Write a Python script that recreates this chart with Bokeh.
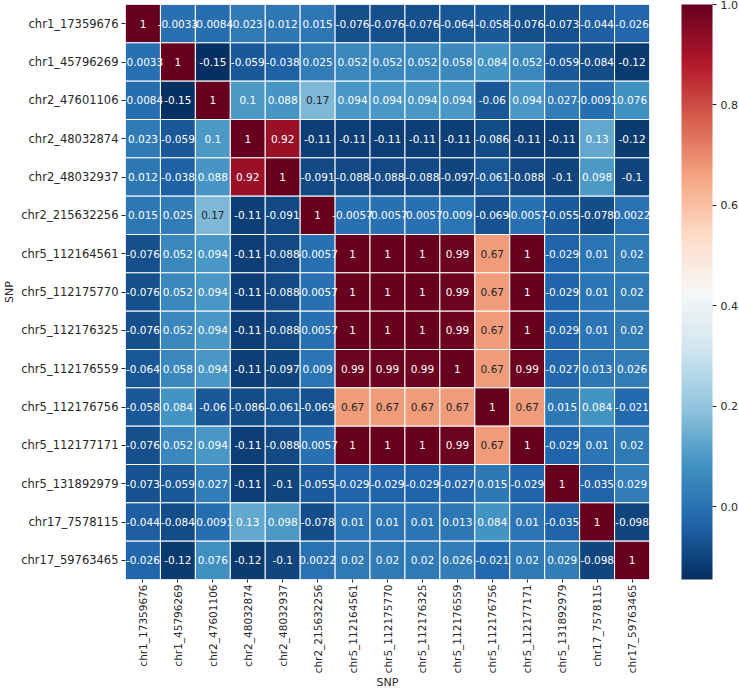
import math
import numpy as np
from bokeh.plotting import figure
from bokeh.models import (ColumnDataSource, LinearColorMapper, ColorBar, FixedTicker,
                          PrintfTickFormatter, FactorRange)
from bokeh.transform import transform
from bokeh.embed import file_html
from bokeh.resources import INLINE
from bokeh.core.properties import value

snps = ["chr1_17359676", "chr1_45796269", "chr2_47601106", "chr2_48032874",
        "chr2_48032937", "chr2_215632256", "chr5_112164561", "chr5_112175770",
        "chr5_112176325", "chr5_112176559", "chr5_112176756", "chr5_112177171",
        "chr5_131892979", "chr17_7578115", "chr17_59763465"]

row_chr1_17359676 = [1, -0.0033, -0.0084, 0.023, 0.012, 0.015, -0.076, -0.076, -0.076, -0.064, -0.058, -0.076, -0.073, -0.044, -0.026]
row_chr1_45796269 = [-0.0033, 1, -0.15, -0.059, -0.038, 0.025, 0.052, 0.052, 0.052, 0.058, 0.084, 0.052, -0.059, -0.084, -0.12]
row_chr2_47601106 = [-0.0084, -0.15, 1, 0.1, 0.088, 0.17, 0.094, 0.094, 0.094, 0.094, -0.06, 0.094, 0.027, -0.0091, 0.076]
row_chr2_48032874 = [0.023, -0.059, 0.1, 1, 0.92, -0.11, -0.11, -0.11, -0.11, -0.11, -0.086, -0.11, -0.11, 0.13, -0.12]
row_chr2_48032937 = [0.012, -0.038, 0.088, 0.92, 1, -0.091, -0.088, -0.088, -0.088, -0.097, -0.061, -0.088, -0.1, 0.098, -0.1]
row_chr2_215632256 = [0.015, 0.025, 0.17, -0.11, -0.091, 1, -0.0057, -0.0057, -0.0057, 0.009, -0.069, -0.0057, -0.055, -0.078, 0.0022]
row_chr5_112164561 = [-0.076, 0.052, 0.094, -0.11, -0.088, -0.0057, 1, 1, 1, 0.99, 0.67, 1, -0.029, 0.01, 0.02]
row_chr5_112175770 = [-0.076, 0.052, 0.094, -0.11, -0.088, -0.0057, 1, 1, 1, 0.99, 0.67, 1, -0.029, 0.01, 0.02]
row_chr5_112176325 = [-0.076, 0.052, 0.094, -0.11, -0.088, -0.0057, 1, 1, 1, 0.99, 0.67, 1, -0.029, 0.01, 0.02]
row_chr5_112176559 = [-0.064, 0.058, 0.094, -0.11, -0.097, 0.009, 0.99, 0.99, 0.99, 1, 0.67, 0.99, -0.027, 0.013, 0.026]
row_chr5_112176756 = [-0.058, 0.084, -0.06, -0.086, -0.061, -0.069, 0.67, 0.67, 0.67, 0.67, 1, 0.67, 0.015, 0.084, -0.021]
row_chr5_112177171 = [-0.076, 0.052, 0.094, -0.11, -0.088, -0.0057, 1, 1, 1, 0.99, 0.67, 1, -0.029, 0.01, 0.02]
row_chr5_131892979 = [-0.073, -0.059, 0.027, -0.11, -0.1, -0.055, -0.029, -0.029, -0.029, -0.027, 0.015, -0.029, 1, -0.035, 0.029]
row_chr17_7578115 = [-0.044, -0.084, -0.0091, 0.13, 0.098, -0.078, 0.01, 0.01, 0.01, 0.013, 0.084, 0.01, -0.035, 1, -0.098]
row_chr17_59763465 = [-0.026, -0.12, 0.076, -0.12, -0.1, 0.0022, 0.02, 0.02, 0.02, 0.026, -0.021, 0.02, 0.029, -0.098, 1]

rows = [row_chr1_17359676, row_chr1_45796269, row_chr2_47601106, row_chr2_48032874,
        row_chr2_48032937, row_chr2_215632256, row_chr5_112164561, row_chr5_112175770,
        row_chr5_112176325, row_chr5_112176559, row_chr5_112176756, row_chr5_112177171,
        row_chr5_131892979, row_chr17_7578115, row_chr17_59763465]

colorbar_ticks = [0.0, 0.2, 0.4, 0.6, 0.8, 1.0]
color_low = -0.145
color_high = 1.0

# RdBu_r colormap (matplotlib anchors), 256 steps
anchors = ["#053061", "#2166ac", "#4393c3", "#92c5de", "#d1e5f0", "#f7f7f7",
           "#fddbc7", "#f4a582", "#d6604d", "#b2182b", "#67001f"]
arr = np.array([[int(h[i:i + 2], 16) / 255 for i in (1, 3, 5)] for h in anchors])
pos = np.linspace(0, 1, len(anchors))
xs = np.linspace(0, 1, 256)
pal_rgb = np.stack([np.interp(xs, pos, arr[:, k]) for k in range(3)], axis=1)
palette = ["#%02x%02x%02x" % tuple(int(round(c * 255)) for c in rgb) for rgb in pal_rgb]

def lum(rgb):
    rgb = np.where(rgb <= 0.03928, rgb / 12.92, ((rgb + 0.055) / 1.055) ** 2.4)
    return 0.2126 * rgb[0] + 0.7152 * rgb[1] + 0.0722 * rgb[2]

xcat, ycat, vals, labels, tcolors = [], [], [], [], []
for i, r in enumerate(rows):
    for j, v in enumerate(r):
        xcat.append(snps[j])
        ycat.append(snps[i])
        vals.append(v)
        labels.append("{:.2g}".format(v))
        idx = int(np.clip(np.floor((v - color_low) / (color_high - color_low) * 256), 0, 255))
        tcolors.append("#262626" if lum(pal_rgb[idx]) > 0.408 else "#ffffff")

src = ColumnDataSource(dict(x=xcat, y=ycat, v=vals, t=labels, tc=tcolors))

mapper = LinearColorMapper(palette=palette, low=color_low, high=color_high)

p = figure(x_range=FactorRange(*snps), y_range=FactorRange(*list(reversed(snps))),
           frame_width=524, frame_height=575, output_backend="svg",
           toolbar_location=None, min_border_left=124, min_border_top=4,
           min_border_right=91, min_border_bottom=0)
p.outline_line_color = None
p.grid.grid_line_color = None
p.background_fill_color = "white"

p.rect(x="x", y="y", width=1, height=1, source=src,
       fill_color=transform("v", mapper), line_color="white", line_width=1)
p.text(x="x", y="y", text="t", source=src, text_color="tc",
       text_align="center", text_baseline="middle",
       text_font=value("DejaVu Sans"), text_font_size="10.5px")

for ax in (p.xaxis[0], p.yaxis[0]):
    ax.axis_line_color = None
    ax.major_tick_line_color = "#262626"
    ax.major_tick_out = 4
    ax.major_tick_in = 0
    ax.minor_tick_line_color = None
    ax.major_label_text_font = "DejaVu Sans"
    ax.major_label_text_font_size = "11px"
    ax.major_label_text_color = "#262626"
    ax.major_label_standoff = 3
    ax.axis_label = "SNP"
    ax.axis_label_text_font = "DejaVu Sans"
    ax.axis_label_text_font_size = "11px"
    ax.axis_label_text_font_style = "normal"
    ax.axis_label_text_color = "#262626"
    ax.axis_label_standoff = 4
p.xaxis.major_label_orientation = math.pi / 2
p.xaxis.major_tick_out = 3
p.xaxis.major_label_standoff = 2
p.xaxis.major_label_text_font_size = "10.5px"
p.xaxis.axis_label_standoff = 0
p.yaxis.major_label_text_font_size = "11.5px"
p.yaxis.axis_label_standoff = 2

cb = ColorBar(color_mapper=mapper, ticker=FixedTicker(ticks=colorbar_ticks),
              formatter=PrintfTickFormatter(format="%.1f"),
              location=(556, 0), width=31, height=575, padding=0, margin=0,
              bar_line_color=None,
              major_tick_line_color="#262626", major_tick_out=4, major_tick_in=0,
              minor_tick_line_color=None, label_standoff=4,
              major_label_text_font="DejaVu Sans", major_label_text_font_size="11px",
              major_label_text_color="#262626", background_fill_color=None,
              border_line_color=None)
p.add_layout(cb, "center")

open("out.html", "w").write(file_html(p, INLINE))
